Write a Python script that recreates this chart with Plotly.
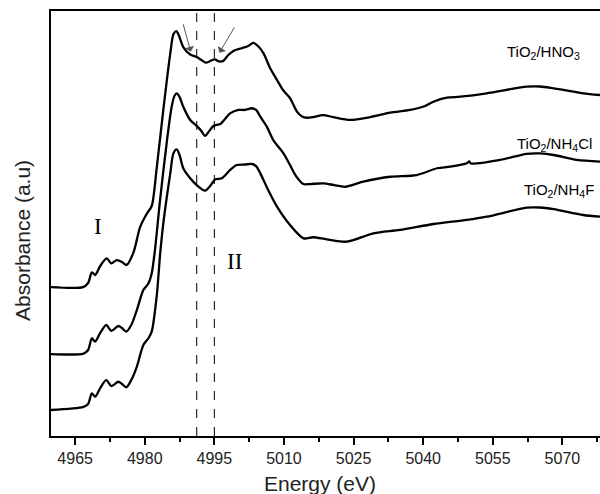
import plotly.graph_objects as go

# ---- data (energy in eV, absorbance in arbitrary offset units) ----
energy_hno3 = [4959.8, 4966.7, 4967.8, 4968.6, 4969.3, 4970.4, 4971.8, 4972.8, 4974.0, 4975.1,
               4976.1, 4977.6, 4979.0, 4980.5, 4981.5, 4982.6, 4984.0, 4985.5, 4986.2, 4986.8,
               4987.4, 4988.3, 4989.8, 4991.2, 4992.2, 4993.2, 4994.1, 4995.1, 4996.0, 4996.9,
               4998.0, 4999.1, 5000.9, 5002.3, 5003.4, 5004.4, 5005.6, 5007.0, 5008.5, 5009.8,
               5011.3, 5012.8, 5013.9, 5015.0, 5016.3, 5018.4, 5020.6, 5024.3, 5028.6, 5032.9,
               5037.2, 5040.4, 5042.2, 5045.1, 5048.0, 5053.7, 5057.7, 5062.3, 5065.2, 5068.1,
               5071.7, 5074.5, 5078.1]
abs_hno3 = [0.876, 0.876, 0.900, 0.963, 0.947, 1.000, 1.045, 1.016, 1.035, 1.024,
            1.006, 1.082, 1.229, 1.310, 1.353, 1.582, 1.918, 2.251, 2.365, 2.382,
            2.353, 2.288, 2.244, 2.229, 2.212, 2.196, 2.206, 2.215, 2.203, 2.206,
            2.241, 2.265, 2.281, 2.294, 2.312, 2.294, 2.251, 2.165, 2.094, 2.035,
            1.988, 1.908, 1.879, 1.872, 1.876, 1.888, 1.876, 1.859, 1.876, 1.902,
            1.918, 1.941, 1.966, 1.990, 1.996, 2.016, 2.035, 2.055, 2.056, 2.045,
            2.029, 2.016, 2.006]

energy_nh4cl = [4959.8, 4966.8, 4967.8, 4968.6, 4969.3, 4970.4, 4971.7, 4972.8, 4974.3, 4975.1,
                4976.0, 4977.1, 4978.3, 4979.7, 4980.8, 4981.5, 4982.2, 4983.3, 4984.8, 4985.8,
                4986.4, 4986.9, 4987.5, 4988.3, 4989.8, 4991.2, 4992.2, 4993.0, 4993.9, 4994.8,
                4996.3, 4997.3, 4998.4, 5000.2, 5001.6, 5003.1, 5004.0, 5004.9, 5006.3, 5007.7,
                5009.9, 5011.3, 5012.6, 5014.2, 5015.6, 5018.5, 5020.8, 5023.2, 5027.1, 5032.9,
                5038.6, 5043.0, 5045.8, 5049.4, 5049.9, 5050.3, 5056.6, 5062.3, 5065.2, 5068.1,
                5073.1, 5078.1]
abs_nh4cl = [0.482, 0.485, 0.506, 0.575, 0.555, 0.606, 0.653, 0.619, 0.647, 0.635,
             0.614, 0.653, 0.741, 0.859, 0.898, 0.957, 1.094, 1.388, 1.741, 1.937,
             2.000, 2.015, 1.994, 1.937, 1.859, 1.824, 1.794, 1.765, 1.794, 1.824,
             1.835, 1.865, 1.898, 1.918, 1.918, 1.928, 1.918, 1.878, 1.820, 1.741,
             1.663, 1.594, 1.529, 1.482, 1.482, 1.486, 1.476, 1.466, 1.496, 1.525,
             1.535, 1.575, 1.584, 1.604, 1.615, 1.603, 1.624, 1.660, 1.662, 1.653,
             1.624, 1.614]

energy_nh4f = [4959.8, 4966.8, 4967.8, 4968.6, 4969.3, 4970.4, 4971.7, 4972.8, 4974.3, 4975.1,
               4976.0, 4977.1, 4978.3, 4979.7, 4980.8, 4981.5, 4982.6, 4983.3, 4984.0, 4985.5,
               4986.2, 4986.9, 4987.5, 4988.3, 4989.8, 4991.2, 4993.0, 4994.1, 4995.2, 4996.6,
               4998.4, 4999.8, 5001.6, 5003.1, 5004.0, 5004.9, 5006.6, 5008.5, 5011.3, 5014.2,
               5016.3, 5019.2, 5023.5, 5029.3, 5035.0, 5042.2, 5049.4, 5053.7, 5062.3, 5065.2,
               5068.1, 5074.5, 5078.1]
abs_nh4f = [0.153, 0.171, 0.188, 0.251, 0.231, 0.282, 0.329, 0.294, 0.319, 0.306,
            0.286, 0.329, 0.408, 0.535, 0.575, 0.614, 0.829, 1.065, 1.251, 1.545,
            1.665, 1.686, 1.653, 1.575, 1.516, 1.476, 1.443, 1.471, 1.510, 1.516,
            1.565, 1.594, 1.597, 1.600, 1.588, 1.545, 1.447, 1.349, 1.241, 1.163,
            1.169, 1.157, 1.143, 1.192, 1.212, 1.247, 1.271, 1.290, 1.343, 1.344,
            1.334, 1.300, 1.290]

series_names = ["TiO<sub>2</sub>/HNO<sub>3</sub>", "TiO<sub>2</sub>/NH<sub>4</sub>Cl", "TiO<sub>2</sub>/NH<sub>4</sub>F"]
label_x = [5065.9, 5068.3, 5069.2]
label_y = [2.253, 1.712, 1.447]

dashed_energies = [4991.2, 4995.0]
region_labels = ["I", "II"]
region_x = [4969.85, 4999.3]
region_y = [1.235, 1.029]

arrow_tips = [(4989.9, 2.261), (4996.1, 2.255)]
arrow_tails = [(4988.2, 2.431), (4999.5, 2.412)]

tick_vals = [4965, 4980, 4995, 5010, 5025, 5040, 5055, 5070]

fig = go.Figure()
for xs, ys, nm in zip([energy_hno3, energy_nh4cl, energy_nh4f],
                      [abs_hno3, abs_nh4cl, abs_nh4f], series_names):
    fig.add_trace(go.Scatter(x=xs, y=ys, mode="lines", name=nm,
                             line=dict(color="black", width=2.3, shape="spline", smoothing=0.8),
                             showlegend=False))

for e in dashed_energies:
    fig.add_shape(type="line", xref="x", yref="paper", x0=e, x1=e, y0=0, y1=1,
                  line=dict(color="black", width=1, dash="dash"))

annotations = []
for nm, lx, ly in zip(series_names, label_x, label_y):
    annotations.append(dict(x=lx, y=ly, xref="x", yref="y", text=nm, showarrow=False,
                            font=dict(family="Liberation Sans, Arial", size=15, color="black")))
for t, rx, ry in zip(region_labels, region_x, region_y):
    annotations.append(dict(x=rx, y=ry, xref="x", yref="y", text=t, showarrow=False,
                            font=dict(family="Liberation Serif, Times New Roman", size=23, color="black")))
for (tx, ty), (sx, sy) in zip(arrow_tips, arrow_tails):
    annotations.append(dict(x=tx, y=ty, ax=sx, ay=sy, xref="x", yref="y", axref="x", ayref="y",
                            text="", showarrow=True, arrowhead=1, arrowsize=1.6, arrowwidth=1,
                            arrowcolor="#555555"))
annotations.append(dict(x=0.49, y=-0.112, xref="paper", yref="paper", text="Energy (eV)",
                        showarrow=False, xanchor="center", yanchor="middle",
                        font=dict(family="Liberation Sans, Arial", size=21, color="#222222")))
annotations.append(dict(x=-0.053, y=0.461, xref="paper", yref="paper", text="Absorbance (a.u)",
                        showarrow=False, xanchor="center", yanchor="middle", textangle=-90,
                        font=dict(family="Liberation Sans, Arial", size=21, color="#222222")))

fig.update_layout(
    width=600, height=494,
    margin=dict(l=51, r=0, t=11, b=58),
    paper_bgcolor="white", plot_bgcolor="white",
    annotations=annotations,
    xaxis=dict(range=[4959.8, 5078.1], tickvals=tick_vals, ticks="outside", ticklen=7,
               tickwidth=1.5, tickcolor="black", showline=True, linewidth=2, linecolor="black",
               mirror=True, showgrid=False, zeroline=False,
               tickfont=dict(family="Liberation Sans, Arial", size=16, color="#222222"),
               minor=dict(dtick=7.5, tick0=4965, ticks="outside", ticklen=4, tickwidth=1.5,
                          tickcolor="black", showgrid=False)),
    yaxis=dict(range=[0, 2.5], showticklabels=False, ticks="", showline=True, linewidth=2,
               linecolor="black", mirror=False, showgrid=False, zeroline=False),
)

fig.write_html("out.html")
